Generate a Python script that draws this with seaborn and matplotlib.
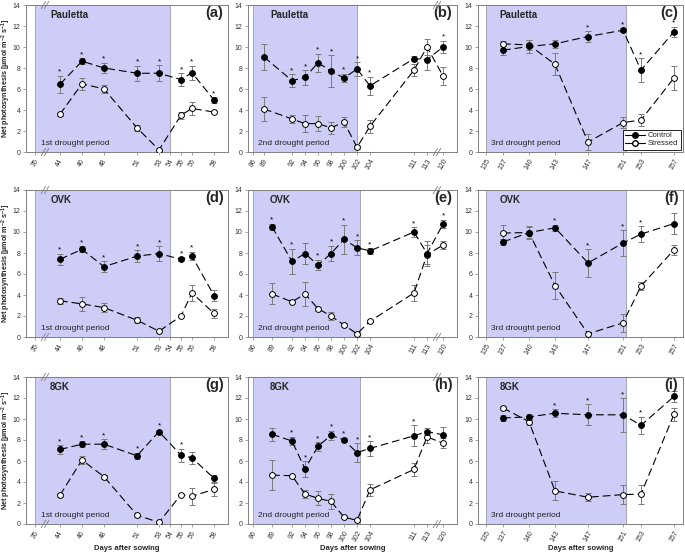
import numpy as np
import pandas as pd
import matplotlib
matplotlib.use("Agg")
import matplotlib.pyplot as plt
import matplotlib.transforms as mtrans
from matplotlib.lines import Line2D
import seaborn as sns

# ---------------- data ----------------
days_1 = [44, 46, 48, 51, 53, 55, 56, 58]
days_2 = [89, 92, 94, 96, 98, 100, 102, 104, 111, 113, 120]
days_3 = [137, 140, 143, 147, 151, 153, 157]

ticks_1 = [35, 44, 46, 48, 51, 53, 54, 55, 56, 58]
ticks_2 = [86, 89, 92, 94, 96, 98, 100, 102, 104, 111, 113, 120]
ticks_3 = [135, 137, 140, 143, 147, 151, 153, 157]

# (a) Pauletta, 1st drought
a_ctrl = [6.45, 8.65, 8.0, 7.5, 7.5, 6.9, 7.55, 4.95]
a_ctrl_err = [0.8, 0.3, 0.5, 0.7, 0.75, 0.6, 0.65, 0.25]
a_str = [3.6, 6.5, 6.0, 2.3, 0.2, 3.5, 4.15, 3.8]
a_str_err = [0.15, 0.55, 0.35, 0.3, 0.1, 0.35, 0.6, 0.1]
a_sig = [44, 46, 48, 51, 53, 55, 56, 58]

# (d) OVK, 1st drought
d_ctrl = [7.4, 8.35, 6.7, 7.7, 7.95, 7.4, 7.7, 3.95]
d_ctrl_err = [0.55, 0.3, 0.5, 0.55, 0.7, 0.2, 0.4, 0.55]
d_str = [3.45, 3.15, 2.8, 1.6, 0.55, 2.0, 4.2, 2.25]
d_str_err = [0.3, 0.7, 0.4, 0.3, 0.1, 0.1, 0.75, 0.4]
d_sig = [44, 46, 48, 51, 53, 55, 56]

# (g) 8GK, 1st drought
g_ctrl = [7.1, 7.6, 7.6, 6.5, 8.8, 6.55, 6.3, 4.35]
g_ctrl_err = [0.4, 0.3, 0.45, 0.3, 0.2, 0.6, 0.55, 0.35]
g_str = [2.75, 6.1, 4.5, 0.85, 0.15, 2.8, 2.65, 3.3]
g_str_err = [0.2, 0.35, 0.2, 0.15, 0.05, 0.05, 0.8, 0.6]
g_sig = [44, 46, 48, 51, 53, 55]

# (b) Pauletta, 2nd drought
b_ctrl = [9.05, 6.8, 7.1, 8.5, 7.7, 7.05, 7.9, 6.3, 8.9, 8.8, 10.0]
b_ctrl_err = [1.2, 0.6, 0.7, 0.85, 1.5, 0.4, 0.65, 0.85, 0.25, 1.0, 0.6]
b_str = [4.1, 3.15, 2.7, 2.7, 2.3, 2.85, 0.45, 2.45, 7.8, 10.0, 7.25]
b_str_err = [1.1, 0.35, 0.8, 0.7, 0.6, 0.5, 0.2, 0.6, 0.55, 0.75, 0.85]
b_sig = [92, 94, 96, 98, 100, 102, 104, 120]

# (e) OVK, 2nd drought
e_ctrl = [10.5, 7.2, 7.95, 6.85, 7.95, 9.3, 8.5, 8.2, 10.0, 7.95, 10.75]
e_ctrl_err = [0.3, 1.2, 1.0, 0.5, 0.75, 1.4, 0.7, 0.25, 0.45, 1.2, 0.4]
e_str = [4.1, 3.35, 4.1, 2.7, 2.0, 1.15, 0.3, 1.5, 4.2, 7.85, 8.75]
e_str_err = [1.0, 0.15, 1.1, 0.2, 0.4, 0.15, 0.1, 0.1, 0.8, 0.9, 0.4]
e_sig = [89, 92, 96, 98, 100, 102, 104, 111, 120]

# (h) 8GK, 2nd drought
h_ctrl = [8.55, 7.9, 5.25, 7.4, 8.45, 8.0, 6.8, 7.2, 8.4, 8.8, 8.5]
h_ctrl_err = [0.6, 0.4, 0.75, 0.4, 0.45, 0.2, 0.9, 0.7, 1.0, 0.3, 0.7]
h_str = [4.65, 4.6, 2.85, 2.45, 2.15, 0.65, 0.35, 3.25, 5.2, 8.3, 7.7]
h_str_err = [1.4, 0.1, 0.35, 0.65, 0.7, 0.1, 0.1, 0.6, 0.6, 0.6, 0.5]
h_sig = [92, 94, 96, 98, 100, 102, 104, 111]

# (c) Pauletta, 3rd drought
c_ctrl = [9.7, 10.05, 10.3, 11.0, 11.6, 7.8, 11.45]
c_ctrl_err = [0.5, 0.6, 0.35, 0.5, 0.2, 1.15, 0.5]
c_str = [10.3, 10.2, 8.35, 0.95, 2.8, 3.05, 7.05]
c_str_err = [0.25, 0.5, 1.05, 0.75, 0.5, 0.6, 1.1]
c_sig = [147, 151, 153, 157]

# (f) OVK, 3rd drought
f_ctrl = [9.05, 9.95, 10.4, 7.05, 8.95, 9.8, 10.8]
f_ctrl_err = [0.25, 0.6, 0.3, 1.3, 1.2, 0.75, 1.0]
f_str = [9.9, 9.95, 4.9, 0.3, 1.35, 4.85, 8.3]
f_str_err = [0.75, 0.5, 1.3, 0.1, 0.85, 0.35, 0.5]
f_sig = [143, 147, 151, 153]

# (i) 8GK, 3rd drought
i_ctrl = [10.1, 10.2, 10.55, 10.4, 10.4, 9.4, 12.15]
i_ctrl_err = [0.3, 0.3, 0.4, 1.0, 1.6, 0.8, 0.5]
i_str = [11.05, 9.75, 3.15, 2.55, 2.8, 2.85, 10.45]
i_str_err = [0.15, 0.3, 0.9, 0.4, 0.9, 0.9, 0.6]
i_sig = [143, 147, 151, 153]

cultivars = ["Pauletta", "OVK", "8GK"]
periods = ["1st drought period", "2nd drought period", "3rd drought period"]
letters = [["(a)", "(b)", "(c)"], ["(d)", "(e)", "(f)"], ["(g)", "(h)", "(i)"]]

# ---------------- layout (broken / stretched day axes) ----------------
W, H = 685, 557
col_px = [(26, 228), (248, 457), (478, 683)]
row_px = [(5, 152), (190, 337), (377, 524)]
tick_pos = [
    [35, 60, 82, 104, 137, 159, 170, 181, 192, 214],
    [253, 272, 292, 305, 318, 331, 344, 357, 370, 414, 427, 443],
    [486, 503, 529, 555, 588, 623, 641, 674],
]
tick_pos_b = [253, 264, 292, 305, 318, 331, 344, 357, 370, 414, 427, 443]
col_ticks = [ticks_1, ticks_2, ticks_3]
col_days = [days_1, days_2, days_3]
shade_days = [[(35, 54)] * 3, [(86, 102), (86, 102.4), (86, 102.4)], [(135, 151.3)] * 3]
break_x = [45, 437, None]

panel_data = [
    [(a_ctrl, a_ctrl_err, a_str, a_str_err, a_sig),
     (b_ctrl, b_ctrl_err, b_str, b_str_err, b_sig),
     (c_ctrl, c_ctrl_err, c_str, c_str_err, c_sig)],
    [(d_ctrl, d_ctrl_err, d_str, d_str_err, d_sig),
     (e_ctrl, e_ctrl_err, e_str, e_str_err, e_sig),
     (f_ctrl, f_ctrl_err, f_str, f_str_err, f_sig)],
    [(g_ctrl, g_ctrl_err, g_str, g_str_err, g_sig),
     (h_ctrl, h_ctrl_err, h_str, h_str_err, h_sig),
     (i_ctrl, i_ctrl_err, i_str, i_str_err, i_sig)],
]

# ---------------- style ----------------
sns.set_theme(style="ticks")
plt.rcParams['font.family'] = ['Liberation Sans', 'DejaVu Sans']
plt.rcParams['mathtext.fontset'] = 'custom'
plt.rcParams['mathtext.rm'] = 'Liberation Sans'
plt.rcParams['mathtext.bf'] = 'Liberation Sans:bold'
plt.rcParams['mathtext.default'] = 'bf'

SPINE = '#808080'
SHADE = '#cdcdf7'
ERRC = '#7a7a7a'
DASH = (7, 3.5)

fig = plt.figure(figsize=(W / 100, H / 100), dpi=100)

for r in range(3):
    for c in range(3):
        x0, x1 = col_px[c]
        y0, y1 = row_px[r]
        ax = fig.add_axes([x0 / W, 1 - y1 / H, (x1 - x0) / W, (y1 - y0) / H])
        tp = tick_pos_b if (r == 0 and c == 1) else tick_pos[c]
        ticks = col_ticks[c]
        days = col_days[c]
        xpos = np.interp(days, ticks, tp)
        ctrl, ctrl_err, st, st_err, sig = panel_data[r][c]

        s0, s1 = shade_days[c][r]
        ax.axvspan(np.interp(s0, ticks, tp), np.interp(s1, ticks, tp),
                   facecolor=SHADE, edgecolor='#9a9aa8', lw=0.6, zorder=0)

        # error bars
        ax.errorbar(xpos, st, yerr=st_err, fmt='none', ecolor=ERRC,
                    elinewidth=0.7, capsize=2.2, capthick=0.7, zorder=2)
        ax.errorbar(xpos, ctrl, yerr=ctrl_err, fmt='none', ecolor=ERRC,
                    elinewidth=0.7, capsize=2.2, capthick=0.7, zorder=2)

        df_s = pd.DataFrame({"x": xpos, "y": st})
        df_c = pd.DataFrame({"x": xpos, "y": ctrl})
        sns.lineplot(data=df_s, x="x", y="y", ax=ax, color='black', lw=0.8,
                     marker='o', markersize=4.2, markerfacecolor='white',
                     markeredgecolor='black', markeredgewidth=0.7, zorder=3)
        ax.lines[-1].set_dashes(DASH)
        sns.lineplot(data=df_c, x="x", y="y", ax=ax, color='black', lw=0.8,
                     marker='o', markersize=4.2, markerfacecolor='black',
                     markeredgecolor='black', markeredgewidth=0.7, zorder=4)
        ax.lines[-1].set_dashes(DASH)

        # significance stars
        for d in sig:
            k = days.index(d)
            top = ctrl[k] + ctrl_err[k]
            ax.text(xpos[k], top + 0.2, '*', ha='center', va='baseline',
                    fontsize=6, color='black', zorder=5)

        ax.set_xlim(x0, x1)
        ax.set_ylim(0, 14)
        ax.set_yticks(np.arange(0, 15, 2))
        ax.set_xticks(tp)
        ax.set_xticklabels([str(t) for t in ticks], rotation=60, ha='center')
        ax.set_xlabel("")
        ax.set_ylabel("")
        ax.tick_params(axis='both', labelsize=5, length=2.5, width=0.5,
                       color=SPINE, labelcolor='#333333', pad=1.5)
        for sp in ax.spines.values():
            sp.set_color(SPINE)
            sp.set_linewidth(0.7)

        # axis break marks
        if break_x[c] is not None:
            tr = mtrans.blended_transform_factory(ax.transData, ax.transAxes)
            bx = break_x[c]
            for yy in (0.0, 1.0):
                for dx in (-1.6, 1.6):
                    ax.plot([bx + dx - 2.2, bx + dx + 2.2], [yy - 0.025, yy + 0.025],
                            transform=tr, color=SPINE, lw=0.6, clip_on=False, zorder=6)

        # texts
        ax.text(0.105 if c else 0.12, 0.935, cultivars[r], transform=ax.transAxes,
                fontsize=7, fontweight='bold', ha='left', va='center')
        ax.text(0.978, 0.945, letters[r][c], transform=ax.transAxes,
                fontsize=10.5, fontweight='bold', ha='right', va='center')
        ax.text([0.074, 0.05, 0.063][c], 0.06, periods[c], transform=ax.transAxes,
                fontsize=6, ha='left', va='center', color='#222222')

        if r == 0 and c == 2:
            handles = [
                Line2D([0], [0], color='black', lw=0.8, marker='o', ms=4,
                       mfc='black', mec='black'),
                Line2D([0], [0], color='black', lw=0.8, marker='o', ms=4,
                       mfc='white', mec='black'),
            ]
            leg = ax.legend(handles, ["Control", "Stressed"], loc='lower right',
                            fontsize=5.5, frameon=True, fancybox=False,
                            edgecolor='black', framealpha=1, borderpad=0.3,
                            handlelength=2.6, handletextpad=0.4,
                            labelspacing=0.1, borderaxespad=0.3)
            leg.get_frame().set_linewidth(0.6)

    # y label on the left column
    yc = 1 - (row_px[r][0] + row_px[r][1]) / 2 / H
    fig.text(6.5 / W, yc, r"Net photosynthesis [µmol m$^{-2}$ s$^{-1}$]",
             rotation=90, ha='center', va='center', fontsize=5.2, fontweight='bold')

for c in range(3):
    xc = (col_px[c][0] + col_px[c][1]) / 2 / W
    fig.text(xc, 1 - 549 / H, "Days after sowing", ha='center', va='center',
             fontsize=5.5, fontweight='bold')

fig.savefig("out.png", dpi=100)
